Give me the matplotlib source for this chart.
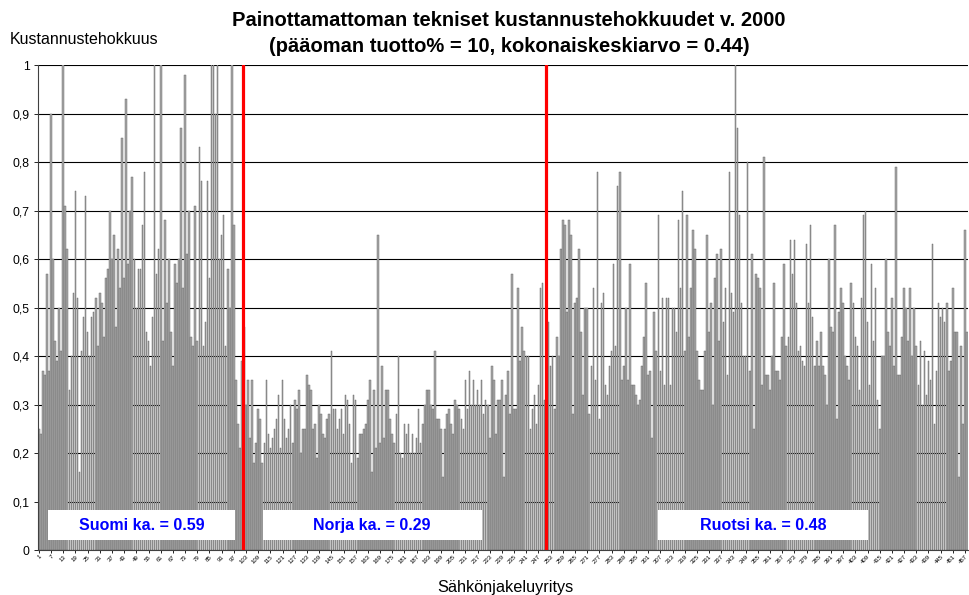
import matplotlib
matplotlib.use("Agg")
import matplotlib.pyplot as plt
import numpy as np
from matplotlib.patches import Rectangle

plt.rcParams["font.family"] = ["Liberation Sans", "DejaVu Sans"]

# cost efficiency per company (Finland, Norway, Sweden)
fin = [0.25, 0.24, 0.37, 0.36, 0.57, 0.37, 0.90, 0.60, 0.43, 0.39, 0.50, 0.41, 1.0, 0.71,
       0.62, 0.33, 0.40, 0.53, 0.74, 0.52, 0.16, 0.41, 0.48, 0.73, 0.45, 0.40, 0.48, 0.49,
       0.52, 0.42, 0.53, 0.51, 0.44, 0.56, 0.58, 0.70, 0.60, 0.65, 0.46, 0.62, 0.54, 0.85,
       0.56, 0.93, 0.59, 0.70, 0.77, 0.60, 0.50, 0.58, 0.58, 0.67,
       0.78, 0.45, 0.43, 0.38, 0.48, 1.0, 0.57, 0.62, 1.0, 0.43, 0.68, 0.51, 0.60, 0.45,
       0.38, 0.59, 0.55, 0.60, 0.87, 0.54, 0.98, 0.61, 0.70, 0.44, 0.42, 0.71, 0.43, 0.83,
       0.76, 0.42, 0.47, 0.76, 0.56, 1.0, 1.0, 0.90, 1.0, 0.60, 0.65, 0.69, 0.42,
       0.58, 0.50, 1.0, 0.67, 0.35, 0.26, 0.21, 0.39]
nor = [0.46, 0.30, 0.35, 0.23, 0.35, 0.18, 0.22, 0.29, 0.27, 0.18, 0.22, 0.35, 0.24, 0.21,
       0.23, 0.25, 0.27, 0.32, 0.21, 0.35, 0.27, 0.23, 0.25, 0.30, 0.22, 0.31, 0.29, 0.33,
       0.20, 0.25, 0.25, 0.36, 0.34, 0.33, 0.25, 0.26, 0.19, 0.30, 0.28, 0.24, 0.23, 0.27,
       0.28, 0.41, 0.29, 0.29, 0.25, 0.27, 0.29, 0.24, 0.32, 0.31, 0.26, 0.18, 0.32, 0.31,
       0.19, 0.24, 0.24, 0.25, 0.26, 0.31, 0.35, 0.16, 0.33, 0.21, 0.65, 0.22, 0.38, 0.23,
       0.33, 0.33, 0.27, 0.24, 0.22,
       0.28, 0.40, 0.20, 0.19, 0.26, 0.24, 0.26, 0.20, 0.24, 0.20, 0.23, 0.29, 0.22, 0.26,
       0.30, 0.33, 0.33, 0.30, 0.29, 0.41, 0.27, 0.27, 0.25, 0.15, 0.25, 0.28, 0.29, 0.26,
       0.24, 0.31, 0.30, 0.29, 0.27, 0.25, 0.35, 0.29, 0.37, 0.30, 0.35, 0.30, 0.33, 0.30,
       0.35, 0.28, 0.31, 0.30, 0.23, 0.38, 0.35, 0.24, 0.31, 0.31, 0.35, 0.15, 0.32, 0.37,
       0.28, 0.57, 0.29, 0.29, 0.54, 0.39, 0.46, 0.41, 0.40, 0.40, 0.25, 0.29, 0.32, 0.26,
       0.34, 0.54, 0.55, 0.31]
swe = [0.52, 0.47, 0.38, 0.40, 0.29, 0.44, 0.40, 0.62, 0.68, 0.67, 0.49, 0.68, 0.65, 0.28,
       0.51, 0.52, 0.62, 0.45, 0.32, 0.50, 0.50, 0.28, 0.38, 0.54, 0.35, 0.78, 0.27, 0.51,
       0.53, 0.34, 0.32, 0.38, 0.41, 0.59, 0.42, 0.75, 0.78, 0.35, 0.38, 0.50, 0.35, 0.59,
       0.34, 0.34, 0.32, 0.30, 0.31, 0.38, 0.44, 0.55, 0.36,
       0.37, 0.23, 0.49, 0.41, 0.69, 0.37, 0.52, 0.34, 0.52, 0.52, 0.34, 0.50, 0.50, 0.45,
       0.68, 0.54, 0.74, 0.41, 0.69, 0.44, 0.54, 0.66, 0.62, 0.41, 0.35, 0.33, 0.33, 0.41,
       0.65, 0.45, 0.51, 0.30, 0.56, 0.61, 0.43, 0.62, 0.47, 0.54, 0.36, 0.78, 0.53, 0.49,
       1.0, 0.87, 0.69, 0.51, 0.40, 0.40, 0.80, 0.37, 0.61, 0.25,
       0.57, 0.56, 0.54, 0.34, 0.81, 0.36, 0.36, 0.33, 0.40, 0.55, 0.37, 0.37, 0.35, 0.44,
       0.59, 0.42, 0.44, 0.64, 0.57, 0.64, 0.51, 0.41, 0.42, 0.39, 0.38, 0.63, 0.51, 0.67,
       0.48, 0.38, 0.43, 0.38, 0.45, 0.38, 0.36, 0.30, 0.60, 0.46, 0.45, 0.67, 0.27, 0.49,
       0.54, 0.51, 0.40, 0.38, 0.35, 0.55, 0.51, 0.44, 0.42, 0.33, 0.52,
       0.69, 0.70, 0.47, 0.34, 0.59, 0.43, 0.54, 0.31, 0.25, 0.40, 0.40, 0.60, 0.45, 0.42,
       0.52, 0.38, 0.79, 0.36, 0.36, 0.44, 0.54, 0.50, 0.43, 0.54, 0.40, 0.50, 0.42, 0.34,
       0.43, 0.30, 0.41, 0.32, 0.39, 0.35, 0.63, 0.26, 0.37, 0.51, 0.48, 0.50, 0.47, 0.51,
       0.37, 0.39, 0.54, 0.45, 0.45, 0.15, 0.42, 0.26, 0.66, 0.45]

countries = ["Suomi", "Norja", "Ruotsi"]
country_means = [0.59, 0.29, 0.48]

values = np.array(fin + nor + swe)
n = len(values)
x = np.arange(n)

fig = plt.figure(figsize=(9.7, 5.95), dpi=100)
ax = fig.add_axes([0.039, 0.0756, 0.959, 0.8151])

ax.bar(x, values, width=0.78, color="#a8a8a8", edgecolor="#5e5e5e", linewidth=0.3, zorder=2)

ax.set_xlim(-0.5, n - 0.5)
ax.set_ylim(0, 1)
ax.set_yticks(np.arange(0, 1.01, 0.1))
ax.set_yticklabels(["0"] + [f"0,{k}" for k in range(1, 10)] + ["1"], fontsize=8.8)
ax.yaxis.grid(True, color="black", linewidth=0.8, zorder=0)
ax.set_axisbelow(True)

ticks = np.arange(0, n, 6)
ax.set_xticks(ticks)
ax.set_xticklabels([str(t + 1) for t in ticks], rotation=45, fontsize=4.3,
                   ha="right", rotation_mode="anchor")
ax.tick_params(axis="x", length=2, width=0.6, pad=1)
ax.tick_params(axis="y", length=3, width=0.6, pad=3)
for s in ["top", "right"]:
    ax.spines[s].set_visible(False)
ax.spines["left"].set_color("#404040")
ax.spines["bottom"].set_color("#404040")

# country borders
for b in [len(fin) - 0.5, len(fin) + len(nor) - 0.5]:
    ax.axvline(b, color="red", linewidth=2.3, zorder=4)

# country mean labels (x in axes fraction, y in data units)
boxes = [(0.011, 0.212), (0.242, 0.477), (0.667, 0.892)]
tr = ax.get_yaxis_transform()
for (x0, x1), name, m in zip(boxes, countries, country_means):
    ax.add_patch(Rectangle((x0, 0.02), x1 - x0, 0.062, transform=tr,
                           facecolor="white", edgecolor="none", zorder=5))
    ax.text((x0 + x1) / 2, 0.051, f"{name} ka. = {m:.2f}", transform=tr,
            ha="center", va="center", color="#0000ff", fontsize=11.5, fontweight="bold", zorder=6)

fig.text(0.525, 0.982, "Painottamattoman tekniset kustannustehokkuudet v. 2000",
         ha="center", va="top", fontsize=14.5, fontweight="bold")
fig.text(0.525, 0.937, "(pääoman tuotto% = 10, kokonaiskeskiarvo = 0.44)",
         ha="center", va="top", fontsize=14.5, fontweight="bold")
fig.text(0.01, 0.934, "Kustannustehokkuus", ha="left", va="center", fontsize=11.5)
fig.text(0.521, 0.012, "Sähkönjakeluyritys", ha="center", va="center", fontsize=11.7)

fig.savefig("out.png", dpi=100)
